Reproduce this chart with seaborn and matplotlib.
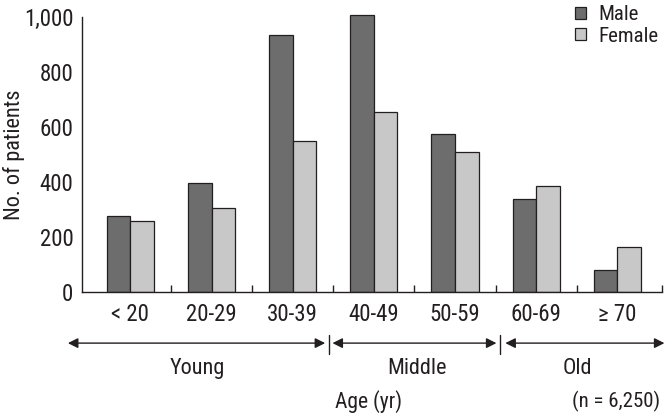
"""
Patients by age group and sex - grouped bar chart
"""

import pandas as pd
import matplotlib
matplotlib.use('Agg')
import matplotlib.pyplot as plt
import seaborn as sns

# data
age_groups = ['< 20', '20-29', '30-39', '40-49', '50-59', '60-69', '\u2265 70']
male = [276, 397, 934, 1007, 573, 337, 80]
female = [257, 305, 549, 656, 508, 387, 165]
sexes = ['Male', 'Female']
y_ticks = [0, 200, 400, 600, 800, 1000]
y_tick_labels = ['0', '200', '400', '600', '800', '1,000']
bands = ['Young', 'Middle', 'Old']

TEXT = '#231f20'
COLORS = {'Male': '#6d6d6d', 'Female': '#c8c8c8'}

sns.set_theme(style='white')
plt.rcParams['font.family'] = ['Roboto Condensed', 'Liberation Sans Narrow',
                               'Liberation Sans', 'DejaVu Sans']
plt.rcParams['text.color'] = TEXT
plt.rcParams['axes.labelcolor'] = TEXT
plt.rcParams['xtick.color'] = TEXT
plt.rcParams['ytick.color'] = TEXT

df = pd.DataFrame({
    'Age': age_groups * 2,
    'Sex': ['Male'] * len(age_groups) + ['Female'] * len(age_groups),
    'Count': male + female,
})

fig = plt.figure(figsize=(6.68, 4.15), dpi=100)
ax = fig.add_axes([0.1223, 0.2964, 0.8687, 0.6694])

sns.barplot(data=df, x='Age', y='Count', hue='Sex', hue_order=sexes,
            palette=COLORS, width=0.58, edgecolor=TEXT, linewidth=0.9,
            saturation=1, ax=ax)

ax.set_xlim(-0.6, 6.55)
ax.set_ylim(0, 1010)

# axes styling
for side in ['top', 'right']:
    ax.spines[side].set_visible(False)
for side in ['left', 'bottom']:
    ax.spines[side].set_color(TEXT)
    ax.spines[side].set_linewidth(1.0)
ax.spines['left'].set_bounds(0, 1000)

ax.set_yticks(y_ticks)
ax.set_yticklabels(y_tick_labels)
ax.tick_params(axis='y', direction='in', length=6, width=1.0, pad=6, labelsize=16.5)
ax.tick_params(axis='x', which='major', length=0, pad=8, labelsize=16.5)
ax.set_xticks([0.5, 1.5, 2.5, 3.5, 4.5, 5.5, 6.55], minor=True)
ax.tick_params(axis='x', which='minor', direction='in', length=5, width=1.0, bottom=True)

ax.set_xlabel('')
ax.set_ylabel('No. of patients', fontsize=16)
ax.yaxis.set_label_coords(-0.097, 0.493)

# legend
handles, labels = ax.get_legend_handles_labels()
ax.legend(handles, labels, loc='upper left', bbox_to_anchor=(0.845, 1.012),
          bbox_transform=fig.transFigure, frameon=False, fontsize=15,
          handlelength=0.55, handleheight=0.55, handletextpad=0.6,
          labelspacing=0.1, borderpad=0)

# age band arrows
trans = ax.get_xaxis_transform()
arrow_y = -0.184
spans = [(-0.77, 2.40), (2.49, 4.51), (4.62, 6.58)]
for x0, x1 in spans:
    ax.annotate('', xy=(x1, arrow_y), xytext=(x0, arrow_y), xycoords=trans,
                textcoords=trans, annotation_clip=False,
                arrowprops=dict(arrowstyle='<|-|>', color=TEXT, lw=1.0,
                                mutation_scale=15, shrinkA=0, shrinkB=0))
for xd in [2.445, 4.56]:
    ax.plot([xd, xd], [-0.155, -0.223], color=TEXT, lw=1.0,
            transform=trans, clip_on=False)

band_x = [0.82, 3.53, 5.51]
for name, xb in zip(bands, band_x):
    ax.text(xb, -0.274, name, transform=trans, ha='center', va='center', fontsize=16)

ax.text(2.94, -0.393, 'Age (yr)', transform=trans, ha='center', va='center', fontsize=15.5)
ax.text(5.99, -0.393, '(n = 6,250)', transform=trans, ha='center', va='center', fontsize=15)

fig.savefig('out.png', dpi=100)
